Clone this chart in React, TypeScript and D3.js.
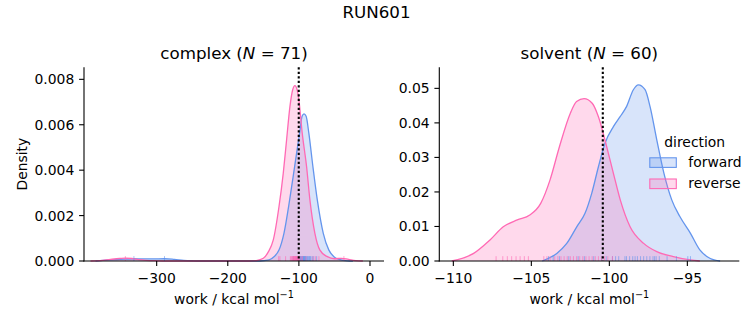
import React from "react";
import * as d3 from "d3";

const W = 753;
const H = 325;
const FONT = "'DejaVu Sans', sans-serif";
const BLUE = "#6495ed";
const PINK = "#ff69b4";

// density curves: [work, density]
const complexForward: [number, number][] = [
  [-386, 0], [-375, 0.00003], [-360, 0.00006], [-345, 0.00008], [-332, 0.0001], [-320, 0.00009],
  [-305, 0.00009], [-289, 0.0001], [-275, 0.00007], [-262, 0.00003], [-250, 0.00001], [-240, 0],
  [-155, 0], [-142, 0.00005], [-135, 0.00019], [-128, 0.00048], [-121, 0.00122], [-113, 0.00269],
  [-106, 0.00416], [-99, 0.00563], [-95.5, 0.00637], [-92.8, 0.00648], [-89.8, 0.00637],
  [-86, 0.00563], [-80.3, 0.00416], [-74.1, 0.00269], [-65.7, 0.00122], [-57.8, 0.00048],
  [-50.8, 0.00019], [-42, 0.00006], [-32, 0.00001], [-24, 0],
];
const complexReverse: [number, number][] = [
  [-393, 0], [-380, 0.00002], [-365, 0.00007], [-352, 0.00011], [-344, 0.00013], [-335, 0.00011],
  [-325, 0.00006], [-315, 0.00003], [-300, 0.00001], [-285, 0], [-170, 0], [-160, 0.00002],
  [-150, 0.00012], [-143, 0.0004], [-136, 0.00093], [-128, 0.00239], [-122, 0.00386],
  [-117.3, 0.00533], [-112.6, 0.0068], [-108.8, 0.00753], [-105.6, 0.00772], [-102.4, 0.00753],
  [-100, 0.00709], [-95.3, 0.00563], [-89.2, 0.00416], [-84.5, 0.00269], [-77.5, 0.00122],
  [-70.4, 0.00048], [-60, 0.00019], [-50, 0.0001], [-40, 0.00012], [-30, 0.00007],
  [-20, 0.00002], [-10, 0],
];
const solventForward: [number, number][] = [
  [-104.3, 0], [-103.37, 0.0022], [-102.73, 0.0051], [-102.09, 0.0099], [-101.56, 0.0138],
  [-101.13, 0.0196], [-100.7, 0.0273], [-100.28, 0.0341], [-99.74, 0.0389], [-99.31, 0.0418],
  [-98.9, 0.0447], [-98.46, 0.0496], [-98.14, 0.051], [-97.71, 0.0496], [-97.39, 0.0447],
  [-96.96, 0.0351], [-96.5, 0.0254], [-96.0, 0.0177], [-95.47, 0.0128], [-94.8, 0.008],
  [-94.2, 0.0032], [-93.56, 0.0008], [-92.9, 0],
];
const solventReverse: [number, number][] = [
  [-110.1, 0], [-108.7, 0.0022], [-107.65, 0.0061], [-106.8, 0.0099], [-105.9, 0.0119],
  [-105.1, 0.0133], [-104.4, 0.0167], [-103.8, 0.0235], [-103.2, 0.0331], [-102.5, 0.0428],
  [-102.1, 0.0462], [-101.62, 0.047], [-101.1, 0.0457], [-100.7, 0.0418], [-100.17, 0.0331],
  [-99.74, 0.0254], [-99.3, 0.0177], [-98.67, 0.0099], [-97.8, 0.0051], [-96.96, 0.0027],
  [-95.9, 0.0013], [-94.8, 0.0003], [-94.2, 0],
];

// rug samples
const complexForwardRug = [
  -332, -289, -108, -104, -101, -99, -98, -97.5, -97, -96, -95.5, -95, -94.5, -94, -93.5, -93,
  -92.5, -92, -91.5, -91, -90.5, -90, -89, -88, -87, -86, -85, -84, -83, -81, -79, -75,
];
const complexReverseRug = [
  -344, -128.5, -126.7, -118.7, -112, -111, -110, -109, -108, -107.5, -107, -106.5, -106, -105.5,
  -105, -104.5, -104, -103.5, -103, -102.5, -102, -101.5, -101, -100.5, -100, -99, -97, -95,
  -90, -80, -76.5, -71.8, -36.7,
];
const solventForwardRug = [
  -103.9, -103.6, -103.2, -102.6, -102.0, -101.6, -101.0, -100.5, -100.2, -99.8, -99.4, -99.0,
  -98.7, -98.35, -98.2, -98.0, -97.8, -97.6, -97.4, -97.2, -97.0, -96.8, -96.3, -95.7, -94.97, -94.8,
  -98.9, -99.6, -97.1, -98.5,
];
const solventReverseRug = [
  -107.26, -106.83, -106.54, -106.26, -105.98, -105.72, -105.45, -105.19, -104.2, -104.0, -103.8,
  -103.5, -103.3, -103.1, -102.9, -102.7, -102.5, -102.3, -102.1, -101.9, -101.7, -101.5, -101.3,
  -101.1, -100.9, -100.7, -100.5, -100.3, -100.1, -99.8,
];

const complexXTicks = [-300, -200, -100, 0];
const complexYTicks = [0, 0.002, 0.004, 0.006, 0.008];
const solventXTicks = [-110, -105, -100, -95];
const solventYTicks = [0, 0.01, 0.02, 0.03, 0.04, 0.05];

const complexVLine = -100.2;
const solventVLine = -100.42;

const directions = ["forward", "reverse"];
const directionColors = [BLUE, PINK];

const TOP = 67.3;
const BOTTOM = 261;

type PanelProps = {
  left: number;
  right: number;
  xDomain: [number, number];
  yMax: number;
  xTicks: number[];
  yTicks: number[];
  yFmt: (v: number) => string;
  name: string;
  n: number;
  fwd: [number, number][];
  rev: [number, number][];
  fwdRug: number[];
  revRug: number[];
  vline: number;
  showYLabel: boolean;
};

const fmtX = d3.format("d");

function Panel(p: PanelProps) {
  const xs = d3.scaleLinear().domain(p.xDomain).range([p.left, p.right]);
  const ys = d3.scaleLinear().domain([0, p.yMax]).range([BOTTOM, TOP]);
  const area = d3
    .area<[number, number]>()
    .x((d) => xs(d[0]))
    .y0(ys(0))
    .y1((d) => ys(d[1]))
    .curve(d3.curveMonotoneX);
  const line = d3
    .line<[number, number]>()
    .x((d) => xs(d[0]))
    .y((d) => ys(d[1]))
    .curve(d3.curveMonotoneX);
  const cx = (p.left + p.right) / 2;
  const rugH = (BOTTOM - TOP) * 0.025;
  const series = [
    { data: p.fwd, rug: p.fwdRug, color: BLUE },
    { data: p.rev, rug: p.revRug, color: PINK },
  ];
  return (
    <g>
      {series.map((s, i) => (
        <path key={"a" + i} d={area(s.data) || ""} fill={s.color} fillOpacity={0.25} stroke="none" />
      ))}
      {series.map((s, i) => (
        <path key={"l" + i} d={line(s.data) || ""} fill="none" stroke={s.color} strokeWidth={1.3} />
      ))}
      {series.map((s, i) =>
        s.rug.map((v, j) => (
          <line
            key={"r" + i + "-" + j}
            x1={xs(v)}
            x2={xs(v)}
            y1={BOTTOM}
            y2={BOTTOM - rugH}
            stroke={s.color}
            strokeOpacity={0.6}
            strokeWidth={1}
          />
        ))
      )}
      <line
        x1={xs(p.vline)}
        x2={xs(p.vline)}
        y1={TOP}
        y2={BOTTOM}
        stroke="#000"
        strokeWidth={2.1}
        strokeDasharray="2.1,2.4"
      />
      {/* spines */}
      <line x1={p.left} x2={p.left} y1={TOP} y2={BOTTOM + 0.5} stroke="#000" strokeWidth={1.1} />
      <line x1={p.left - 0.5} x2={p.right} y1={BOTTOM} y2={BOTTOM} stroke="#000" strokeWidth={1.1} />
      {p.xTicks.map((t) => (
        <g key={"xt" + t}>
          <line x1={xs(t)} x2={xs(t)} y1={BOTTOM} y2={BOTTOM + 4.9} stroke="#000" strokeWidth={1.1} />
          <text x={xs(t)} y={BOTTOM + 22} textAnchor="middle" fontSize={13.9} fontFamily={FONT} fill="#000">
            {fmtX(t)}
          </text>
        </g>
      ))}
      {p.yTicks.map((t) => (
        <g key={"yt" + t}>
          <line x1={p.left - 4.9} x2={p.left} y1={ys(t)} y2={ys(t)} stroke="#000" strokeWidth={1.1} />
          <text
            x={p.left - 9.7}
            y={ys(t) + 5}
            textAnchor="end"
            fontSize={13.9}
            fontFamily={FONT}
            fill="#000"
          >
            {p.yFmt(t)}
          </text>
        </g>
      ))}
      <text x={cx} y={58.5} textAnchor="middle" fontSize={16.7} fontFamily={FONT} fill="#000">
        {p.name} (<tspan fontStyle="italic">N</tspan> = {p.n})
      </text>
      <text x={cx} y={304} textAnchor="middle" fontSize={13.9} fontFamily={FONT} fill="#000">
        work / kcal mol
        <tspan dy={-6} fontSize={9.7}>
          −1
        </tspan>
      </text>
      {p.showYLabel && (
        <text
          transform={`translate(${27},${(TOP + BOTTOM) / 2}) rotate(-90)`}
          textAnchor="middle"
          fontSize={13.9}
          fontFamily={FONT}
          fill="#000"
        >
          Density
        </text>
      )}
    </g>
  );
}

export default function App() {
  return (
    <svg
      width={W}
      height={H}
      viewBox={`0 0 ${W} ${H}`}
      style={{ position: "absolute", left: 0, top: 0, background: "#fff" }}
    >
      <rect x={0} y={0} width={W} height={H} fill="#fff" />
      <text x={376.5} y={17.5} textAnchor="middle" fontSize={16.7} fontFamily={FONT} fill="#000">
        RUN601
      </text>
      <Panel
        left={84}
        right={384}
        xDomain={[-402.2, 19.7]}
        yMax={0.00853}
        xTicks={complexXTicks}
        yTicks={complexYTicks}
        yFmt={d3.format(".3f")}
        name="complex"
        n={71}
        fwd={complexForward}
        rev={complexReverse}
        fwdRug={complexForwardRug}
        revRug={complexReverseRug}
        vline={complexVLine}
        showYLabel={true}
      />
      <Panel
        left={439.3}
        right={739.3}
        xDomain={[-110.9, -91.67]}
        yMax={0.0561}
        xTicks={solventXTicks}
        yTicks={solventYTicks}
        yFmt={d3.format(".2f")}
        name="solvent"
        n={60}
        fwd={solventForward}
        rev={solventReverse}
        fwdRug={solventForwardRug}
        revRug={solventReverseRug}
        vline={solventVLine}
        showYLabel={false}
      />
      {/* legend */}
      <text x={694.7} y={147} textAnchor="middle" fontSize={13.9} fontFamily={FONT} fill="#000">
        direction
      </text>
      {directions.map((d, i) => (
        <g key={d}>
          <rect
            x={649.8}
            y={157.8 + i * 21.2}
            width={26.5}
            height={9.6}
            fill={directionColors[i]}
            fillOpacity={0.25}
            stroke={directionColors[i]}
            strokeWidth={1.1}
          />
          <text x={688.3} y={166.5 + i * 21.2} fontSize={13.9} fontFamily={FONT} fill="#000">
            {d}
          </text>
        </g>
      ))}
    </svg>
  );
}
